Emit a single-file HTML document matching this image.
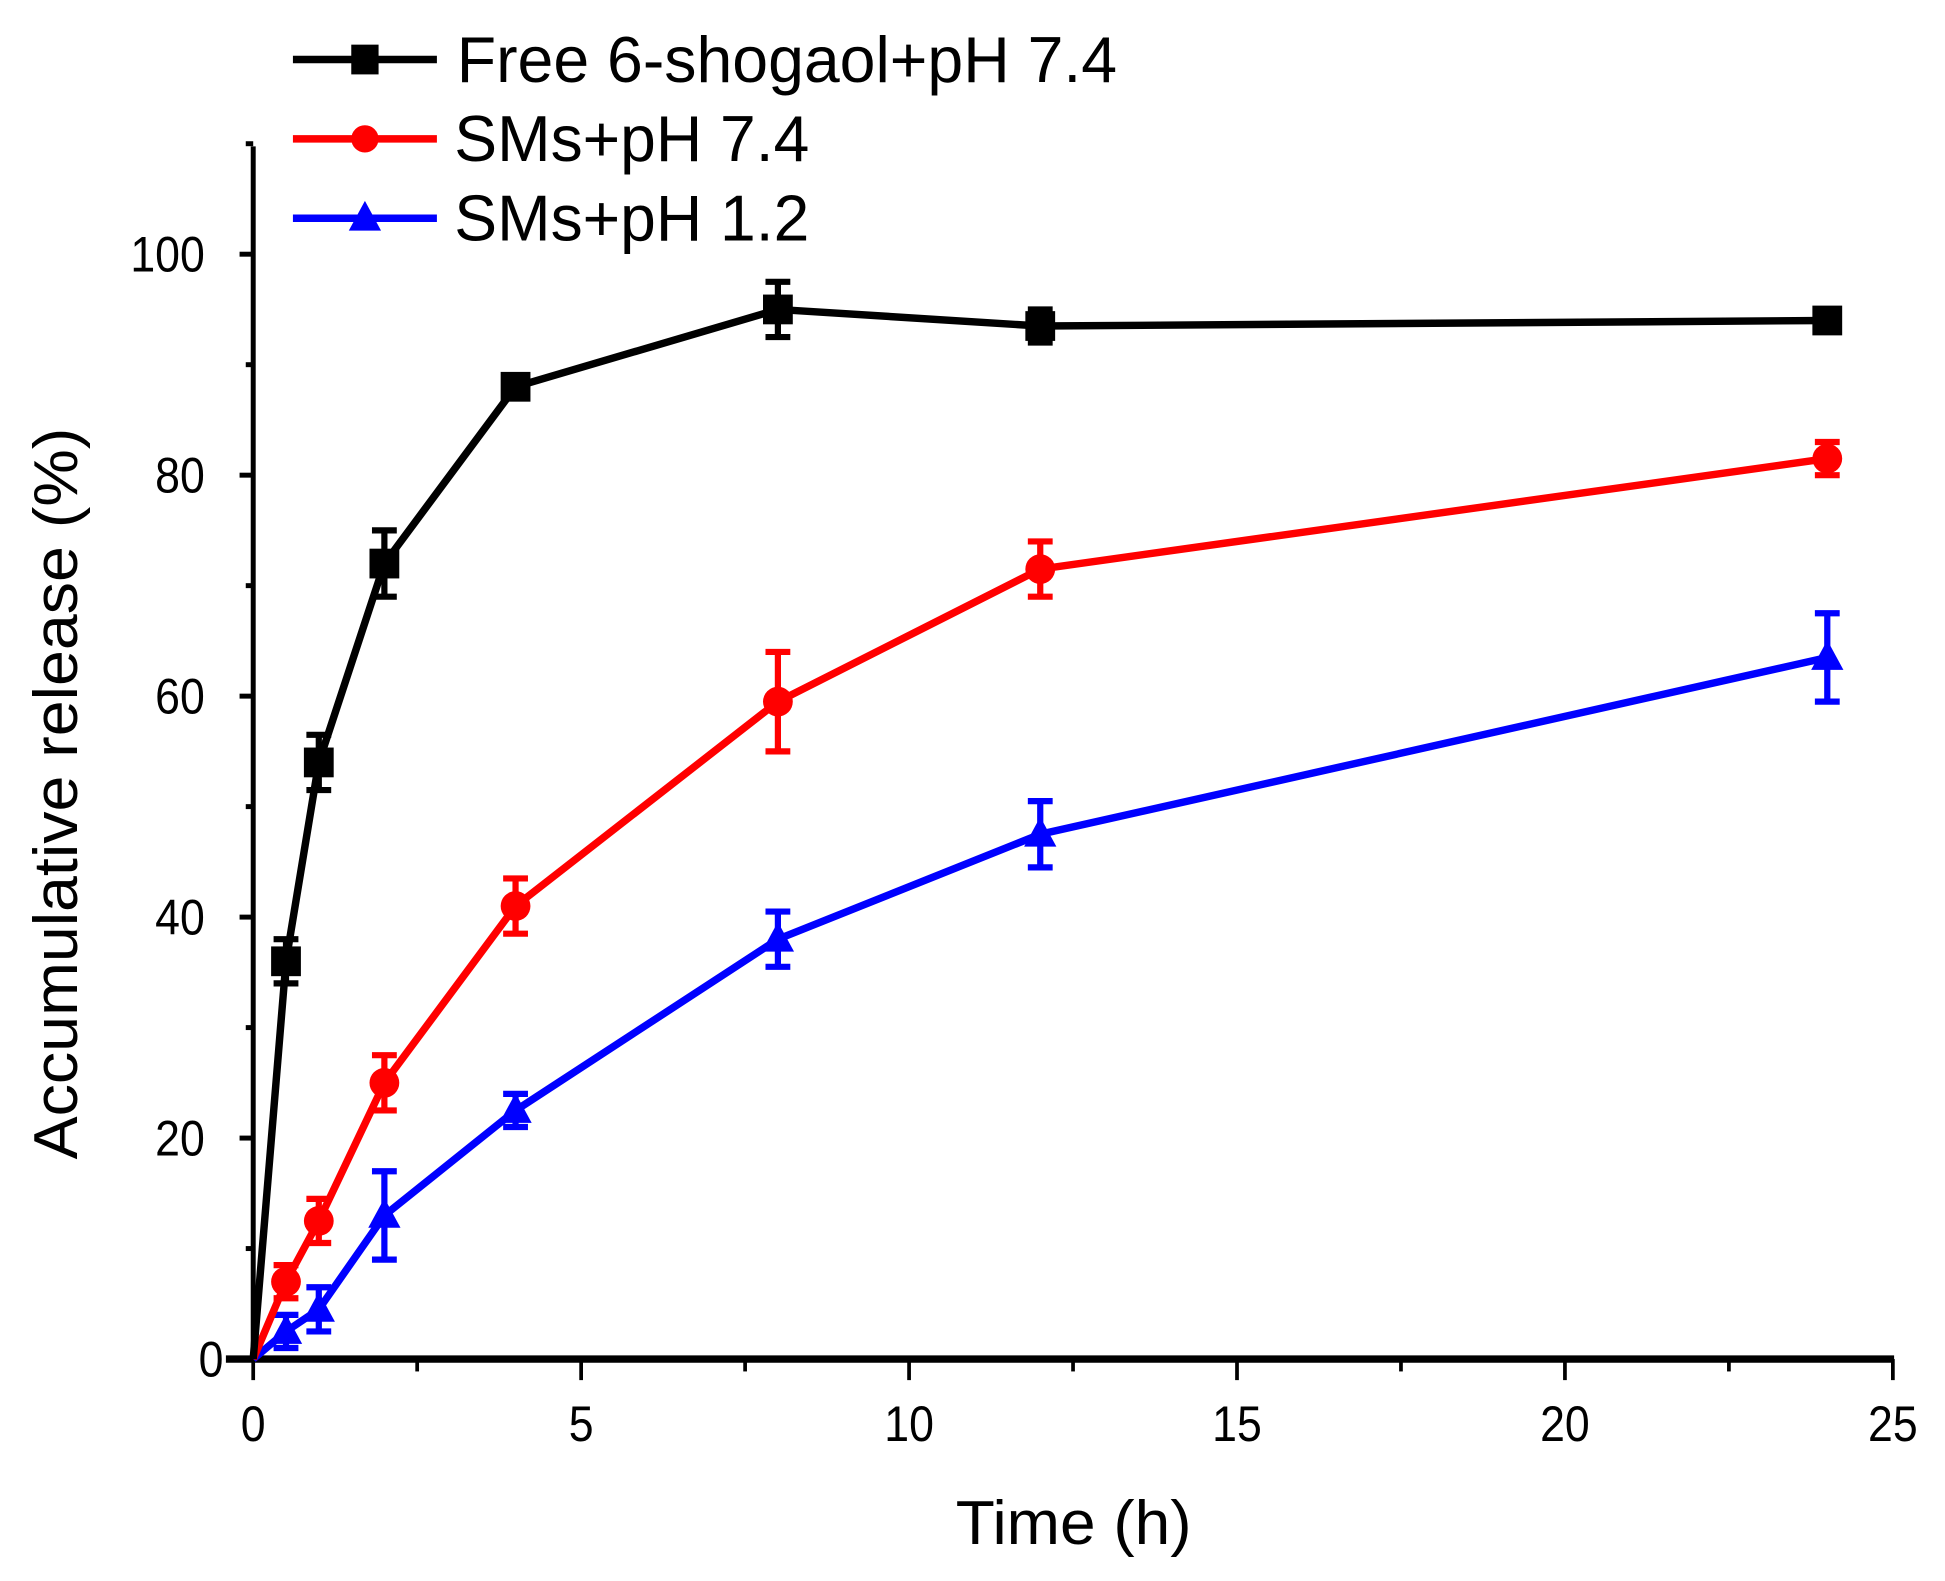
<!DOCTYPE html>
<html><head><meta charset="utf-8"><style>html,body{margin:0;padding:0;background:#fff}svg{display:block}</style></head>
<body>
<svg id="s" width="1945" height="1581" viewBox="0 0 1567 1275" preserveAspectRatio="none" xmlns="http://www.w3.org/2000/svg" font-family="Liberation Sans, sans-serif">
<rect width="1567" height="1275" fill="#fff"/>
<g id="g"></g>
<text x="865" y="1245" font-size="50" text-anchor="middle" textLength="190" lengthAdjust="spacingAndGlyphs">Time (h)</text>
<text transform="translate(62,640) rotate(-90)" font-size="50" text-anchor="middle" textLength="590" lengthAdjust="spacingAndGlyphs">Accumulative release (%)</text>
<g stroke-width="6">
<line x1="236" y1="48" x2="352" y2="48" stroke="#000"/><rect x="283" y="36" width="22" height="24" fill="#000"/>
<line x1="236" y1="112" x2="352" y2="112" stroke="#f00"/><circle cx="294" cy="112" r="11" fill="#f00"/>
<line x1="236" y1="176" x2="352" y2="176" stroke="#00f"/><polygon points="294,162 307,186 281,186" fill="#00f"/>
</g>
<g font-size="52"><text x="368" y="66" textLength="532" lengthAdjust="spacingAndGlyphs">Free 6-shogaol+pH 7.4</text><text x="366" y="130" textLength="286" lengthAdjust="spacingAndGlyphs">SMs+pH 7.4</text><text x="366" y="194" textLength="286" lengthAdjust="spacingAndGlyphs">SMs+pH 1.2</text></g>
</svg>
<script>
var g=document.getElementById('g'),h='';
function X(x){return 204+x*52.84}function Y(y){return 1096-y*8.91}
h+='<line x1="204" y1="118" x2="204" y2="1098" stroke="#000" stroke-width="4"/>';
h+='<line x1="182" y1="1096" x2="1526" y2="1096" stroke="#000" stroke-width="6"/>';
for(var v=0;v<=110;v+=10){var maj=v%20==0;h+='<line x1="'+(maj?193:198)+'" y1="'+Y(v)+'" x2="204" y2="'+Y(v)+'" stroke="#000" stroke-width="4"/>';
if(maj){var w=(''+v).length*20;h+='<text x="'+(v==0?180:165)+'" y="'+(Y(v)+14)+'" font-size="40" text-anchor="end" textLength="'+w+'" lengthAdjust="spacingAndGlyphs">'+v+'</text>';}}
for(var t=0;t<=25;t+=2.5){var maj=t%5==0;h+='<line x1="'+X(t)+'" y1="1096" x2="'+X(t)+'" y2="'+(maj?1113:1106)+'" stroke="#000" stroke-width="3"/>';
if(maj){var w=(''+t).length*20;h+='<text x="'+X(t)+'" y="1162" font-size="40" text-anchor="middle" textLength="'+w+'" lengthAdjust="spacingAndGlyphs">'+t+'</text>';}}
var xs=[0,0.5,1,2,4,8,12,24];
var S=[['#000',[0,36,54,72,88,95,93.5,94],[0,2,2.5,3,1,2.5,1.5,1],'s'],
['#f00',[0,7,12.5,25,41,59.5,71.5,81.5],[0,1.5,2,2.5,2.5,4.5,2.5,1.5],'c'],
['#00f',[0,2.5,4.5,13,22.5,38,47.5,63.5],[0,1.5,2,4,1.5,2.5,3,4],'t']];
S.reverse().forEach(function(s){var c=s[0],p='';
xs.forEach(function(x,i){p+=(i?'L':'M')+X(x)+','+Y(s[1][i])});
h+='<path d="'+p+'" fill="none" stroke="'+c+'" stroke-width="6"/>';
xs.forEach(function(x,i){if(!i)return;var cx=X(x),cy=Y(s[1][i]),e=s[2][i]*8.91;
h+='<path d="M'+cx+','+(cy-e)+'V'+(cy+e)+'M'+(cx-10)+','+(cy-e)+'H'+(cx+10)+'M'+(cx-10)+','+(cy+e)+'H'+(cx+10)+'" stroke="'+c+'" stroke-width="5" fill="none"/>';
if(s[3]=='s')h+='<rect x="'+(cx-12)+'" y="'+(cy-12)+'" width="24" height="24" fill="'+c+'"/>';
else if(s[3]=='c')h+='<circle cx="'+cx+'" cy="'+cy+'" r="12" fill="'+c+'"/>';
else h+='<polygon points="'+cx+','+(cy-14)+' '+(cx+13)+','+(cy+10)+' '+(cx-13)+','+(cy+10)+'" fill="'+c+'"/>';});});
g.innerHTML=h;
</script>
</body></html>
